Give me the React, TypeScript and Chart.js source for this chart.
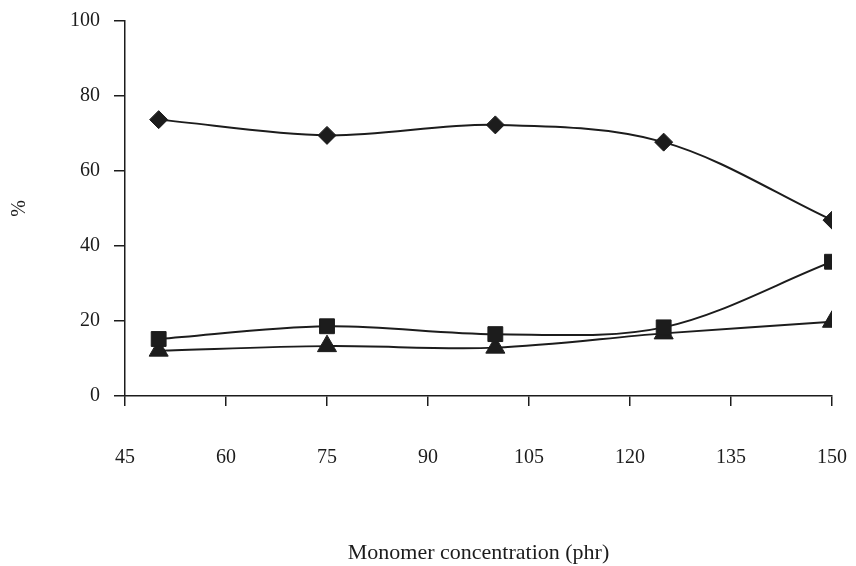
import React, { useEffect, useRef } from "react";
import { Chart, registerables } from "chart.js";

Chart.register(...registerables);

const concentrations = [50, 75, 100, 125, 150];
const seriesDiamond = [73.7, 69.5, 72.3, 67.7, 46.9];
const seriesSquare = [15.2, 18.6, 16.5, 18.3, 35.8];
const seriesTriangle = [12.1, 13.3, 12.9, 16.7, 19.8];
const xTitle = "Monomer concentration (phr)";
const yTitle = "%";

const INK = "#1c1c1c";
const FONT = "'Liberation Serif', 'Times New Roman', serif";

function toPoints(values: number[]) {
  return concentrations.map((x, i) => ({ x, y: values[i] }));
}

export default function App() {
  const ref = useRef<HTMLCanvasElement | null>(null);

  useEffect(() => {
    if (!ref.current) return;
    const mk = (data: number[], style: string, radius: number) => ({
      data: toPoints(data),
      borderColor: INK,
      backgroundColor: INK,
      borderWidth: 2,
      pointStyle: style,
      pointRadius: radius,
      pointBackgroundColor: INK,
      pointBorderColor: INK,
      pointBorderWidth: 1,
      tension: 0.33,
      fill: false,
    });
    const chart = new Chart(ref.current, {
      type: "line",
      data: {
        datasets: [
          mk(seriesDiamond, "rectRot", 9),
          mk(seriesSquare, "rect", 10.5),
          mk(seriesTriangle, "triangle", 11),
        ] as any,
      },
      options: {
        responsive: false,
        animation: false,
        layout: { padding: { left: 0, right: 24, top: 21, bottom: 0 } },
        plugins: { legend: { display: false }, tooltip: { enabled: false } },
        scales: {
          x: {
            type: "linear",
            min: 45,
            max: 150,
            afterFit: (s: any) => {
              s.height = 170;
              s.paddingLeft = 0;
              s.paddingRight = 0;
            },
            ticks: {
              stepSize: 15,
              color: INK,
              padding: 40,
              font: { family: FONT, size: 20 },
            },
            grid: {
              drawOnChartArea: false,
              drawTicks: true,
              tickLength: 10,
              color: INK,
              lineWidth: 1.5,
            },
            border: { display: true, color: INK, width: 1.5 },
            title: {
              display: true,
              text: xTitle,
              color: INK,
              font: { family: FONT, size: 22 },
              padding: { top: 0, bottom: 0 },
            },
          },
          y: {
            type: "linear",
            min: 0,
            max: 100,
            afterFit: (s: any) => {
              s.width = 125;
              s.paddingTop = 0;
              s.paddingBottom = 0;
            },
            ticks: {
              stepSize: 20,
              color: INK,
              padding: 14,
              font: { family: FONT, size: 20 },
            },
            grid: {
              drawOnChartArea: false,
              drawTicks: true,
              tickLength: 11,
              color: INK,
              lineWidth: 1.5,
            },
            border: { display: true, color: INK, width: 1.5 },
            title: {
              display: true,
              text: yTitle,
              color: INK,
              font: { family: FONT, size: 20 },
              padding: { top: 8, bottom: 0 },
            },
          },
        },
      } as any,
    });
    return () => chart.destroy();
  }, []);

  return (
    <div style={{ position: "absolute", left: 0, top: 0, width: 856, height: 566, background: "#fff" }}>
      <canvas ref={ref} width={856} height={566} style={{ display: "block" }} />
    </div>
  );
}
